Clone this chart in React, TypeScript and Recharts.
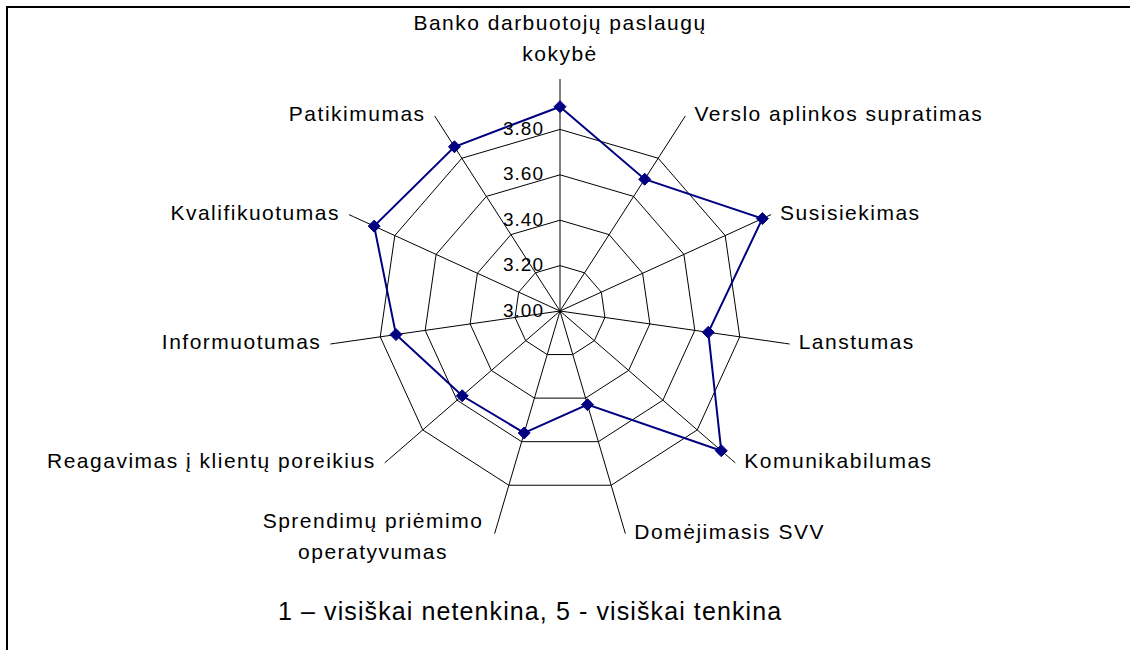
import React from "react";
import { RadarChart, Radar, PolarGrid, PolarAngleAxis, PolarRadiusAxis } from "recharts";

const categories = [
  "Banko darbuotojų paslaugų\nkokybė",
  "Verslo aplinkos supratimas",
  "Susisiekimas",
  "Lanstumas",
  "Komunikabilumas",
  "Domėjimasis SVV",
  "Sprendimų priėmimo\noperatyvumas",
  "Reagavimas į klientų poreikius",
  "Informuotumas",
  "Kvalifikuotumas",
  "Patikimumas",
];
const scores = [3.9, 3.69, 3.98, 3.66, 3.94, 3.43, 3.56, 3.57, 3.73, 3.9, 3.86];
const radiusTicks = [3.0, 3.2, 3.4, 3.6, 3.8];
const footnote = "1 – visiškai netenkina, 5 - visiškai tenkina";

const data = categories.map((name, i) => ({ name, value: scores[i] }));

const CX = 560;
const CY = 311;
const FONT = "'Liberation Sans', Arial, sans-serif";
const NAVY = "#000080";

let ctx: CanvasRenderingContext2D | null = null;
function textWidth(s: string, size: number, spacing: number) {
  if (!ctx) ctx = document.createElement("canvas").getContext("2d");
  if (!ctx) return s.length * size * 0.55;
  ctx.font = `${size}px ${FONT}`;
  return ctx.measureText(s).width + spacing * (s.length - 1);
}

function AngleTick(props: any) {
  const { x, y, payload } = props;
  const dx = x - CX;
  const dy = y - CY;
  const len = Math.hypot(dx, dy) || 1;
  const ux = dx / len;
  const lines = String(payload.value).split("\n");
  const lh = 31;
  const style = { fontFamily: FONT, fontSize: 21, letterSpacing: 1.5, fill: "#000" };

  if (Math.abs(ux) < 0.05) {
    const last = y - 26;
    return (
      <g>
        {lines.map((l, k) => (
          <text key={k} x={x} y={last - (lines.length - 1 - k) * lh} textAnchor="middle" dominantBaseline="central" {...style}>
            {l}
          </text>
        ))}
      </g>
    );
  }

  const sign = ux > 0 ? 1 : -1;
  if (lines.length > 1) {
    const center = y + 2;
    const w = Math.max(...lines.map((l) => textWidth(l, 21, 1.5)));
    const mx = x + sign * (12 + w / 2);
    return (
      <g>
        {lines.map((l, k) => (
          <text key={k} x={mx} y={center + (k - (lines.length - 1) / 2) * lh} textAnchor="middle" dominantBaseline="central" {...style}>
            {l}
          </text>
        ))}
      </g>
    );
  }
  return (
    <text x={x + sign * 9} y={y - 2.5} textAnchor={ux > 0 ? "start" : "end"} dominantBaseline="central" {...style}>
      {lines[0]}
    </text>
  );
}

function RadiusTick(props: any) {
  const { x, y, payload } = props;
  return (
    <text x={x - 16} y={y - 1} textAnchor="end" dominantBaseline="central" fontFamily={FONT} fontSize={19} letterSpacing={1} fill="#000">
      {Number(payload.value).toFixed(2)}
    </text>
  );
}

function Diamond(props: any) {
  const { cx, cy } = props;
  if (cx == null || cy == null) return <g />;
  const r = 6;
  return <path d={`M${cx},${cy - r}L${cx + r},${cy}L${cx},${cy + r}L${cx - r},${cy}Z`} fill={NAVY} stroke={NAVY} />;
}

export default function App() {
  return (
    <div style={{ position: "fixed", left: 0, top: 0, width: 1130, height: 650, overflow: "hidden", background: "#fff" }}>
      <div
        style={{
          position: "absolute",
          left: 6,
          top: 6,
          width: 1200,
          height: 700,
          borderTop: "2px solid #000",
          borderLeft: "2px solid #000",
        }}
      />
      <div style={{ position: "absolute", left: 0, top: 0 }}>
        <RadarChart width={1130} height={650} data={data} cx={CX} cy={CY} outerRadius={227} startAngle={90} endAngle={-270}>
          <PolarGrid gridType="polygon" stroke="#000" strokeWidth={1} />
          <PolarAngleAxis dataKey="name" axisLine={false} tickLine={{ stroke: "#000" }} tickSize={5} tick={<AngleTick />} />
          <PolarRadiusAxis
            angle={90}
            domain={[3, 4]}
            ticks={radiusTicks}
            axisLine={false}
            tickLine={false}
            tick={<RadiusTick />}
          />
          <Radar dataKey="value" stroke={NAVY} strokeWidth={2} fill="none" fillOpacity={0} dot={<Diamond />} isAnimationActive={false} />
        </RadarChart>
      </div>
      <div
        style={{
          position: "absolute",
          left: 278,
          top: 597,
          fontFamily: FONT,
          fontSize: 25,
          letterSpacing: 1.1,
          color: "#000",
          whiteSpace: "nowrap",
        }}
      >
        {footnote}
      </div>
    </div>
  );
}
